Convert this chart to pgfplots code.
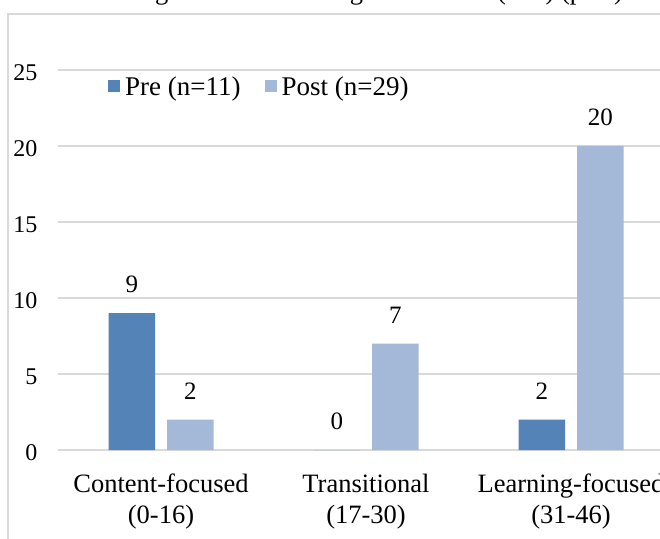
\documentclass[border=0pt]{standalone}
\usepackage{pgfplots}
\pgfplotsset{compat=1.18}
\usepackage{fontspec}
\setmainfont{Liberation Serif}
\definecolor{preC}{RGB}{84,132,183}
\definecolor{postC}{RGB}{164,185,216}
\definecolor{gridC}{RGB}{217,217,217}
\begin{document}
\begin{tikzpicture}
\useasboundingbox (0pt,0pt) rectangle (660pt,538pt);
\clip (0pt,0pt) rectangle (660pt,538pt);
\fill[white] (0pt,0pt) rectangle (660pt,538pt);
\node[anchor=base east, inner sep=0pt, font=\fontsize{26.5}{30}\selectfont] at (623pt,538.8pt) {Learning-focused Teaching Orientation (TPI) (post)};
\draw[gridC, line width=2pt] (8pt,-10pt) -- (8pt,524pt) -- (700pt,524pt);
\begin{axis}[
  at={(58.5pt,88pt)}, anchor=south west,
  scale only axis, width=615pt, height=380pt,
  xmin=-0.5, xmax=2.5, ymin=0, ymax=25,
  ytick={0,5,...,25},
  xtick={0,1,2},
  xticklabels={{Content-focused\\(0-16)},{Transitional\\(17-30)},{Learning-focused\\(31-46)}},
  xticklabel style={align=center, anchor=north, inner sep=0pt, yshift=-24pt, font=\fontsize{26.5}{30.5}\selectfont},
  yticklabel style={anchor=east, inner sep=0pt, xshift=-21pt, yshift=-3pt, font=\fontsize{24}{28}\selectfont},
  /pgf/number format/assume math mode=true,
  axis line style={draw=none},
  major tick length=0pt,
  ymajorgrids, grid style={gridC, line width=1.5pt},
  ybar=12pt, bar width=46.5pt,
  nodes near coords,
  nodes near coords style={anchor=center, inner sep=0pt, yshift=28.5pt, font=\fontsize{25}{28}\selectfont, text=black},
  legend columns=2,
  legend image code/.code={\fill[#1] (0pt,-5pt) rectangle (12pt,7pt);},
  legend style={at={(0.0805,0.955)}, anchor=west, draw=none, fill=none, inner sep=0pt,
    font=\fontsize{27}{30}\selectfont, nodes={inner sep=0pt},
    /tikz/every odd column/.append style={column sep=5pt},
    /tikz/every even column/.append style={column sep=24pt}},
]
\addplot[fill=preC, draw=none] coordinates {(0,9) (1,0) (2,2)};
\addplot[fill=postC, draw=none] coordinates {(0,2) (1,7) (2,20)};
\legend{Pre (n=11), Post (n=29)}
\end{axis}
\end{tikzpicture}
\end{document}
